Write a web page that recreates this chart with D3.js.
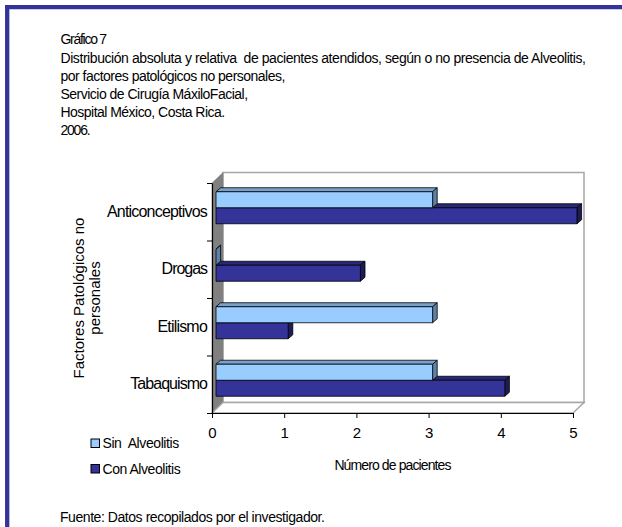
<!DOCTYPE html>
<html><head><meta charset="utf-8">
<script src="https://cdn.jsdelivr.net/npm/d3@7"></script>
<style>
html,body{margin:0;padding:0;background:#fff;overflow:hidden;}
svg{display:block;font-family:"Liberation Sans",Arial,sans-serif;}
text{white-space:pre;}
</style></head><body>
<svg id="chart" width="622" height="527"></svg>
<script>
// ---- data ----
const titleLines = ["Gráfico 7",
  "Distribución absoluta y relativa  de pacientes atendidos, según o no presencia de Alveolitis,",
  "por factores patológicos no personales,",
  "Servicio de Cirugía MáxiloFacial,",
  "Hospital México, Costa Rica.",
  "2006."];
const categories = ["Anticonceptivos", "Drogas", "Etilismo", "Tabaquismo"];
const seriesKeys = ["sin", "con"];
const seriesNames = ["Sin  Alveolitis", "Con Alveolitis"];
const sinAlveolitis = [3, 0, 3, 3];
const conAlveolitis = [5, 2, 1, 4];
const xTicks = [0, 1, 2, 3, 4, 5];
const yAxisTitle = ["Factores Patológicos no", "personales"];
const xAxisTitle = "Número de pacientes";
const sourceNote = "Fuente: Datos recopilados por el investigador.";

// ---- layout ----
const svg = d3.select("#chart");
const W = 622, H = 527;
svg.append("rect").attr("width", W).attr("height", H).attr("fill", "#fff");
// frame (only top & left edges visible)
svg.append("line").attr("x1", 5).attr("x2", W).attr("y1", 7.2).attr("y2", 7.2)
  .attr("stroke", "#333399").attr("stroke-width", 4.3);
svg.append("line").attr("x1", 7.2).attr("x2", 7.2).attr("y1", 5).attr("y2", H)
  .attr("stroke", "#333399").attr("stroke-width", 4.3);

// tighten text (the reference font is rendered condensed)
function condense(sel, f) {
  sel.each(function () {
    const el = d3.select(this);
    const w = this.getComputedTextLength();
    const n = Math.max(1, el.text().length - 1);
    el.attr("letter-spacing", ((w * f - w) / n).toFixed(3));
  });
}

// title
const tBase = [44, 62.5, 80.5, 99, 117, 135];
const tFactor = [0.82, 0.93, 0.92, 0.92, 0.92, 0.86];
const tt = svg.append("g").selectAll("text").data(titleLines).join("text")
  .attr("x", 60.5).attr("y", (d, i) => tBase[i])
  .attr("font-size", 14).attr("fill", "#000").text(d => d);
tt.each(function (d, i) { condense(d3.select(this), tFactor[i]); });

// scales
const x = d3.scaleLinear().domain([0, 5]).range([212, 573]);
const yTop = 183, yBot = 413;
const yBand = d3.scaleBand().domain(categories).range([yTop, yBot])
  .paddingInner(0.443).paddingOuter(0.2215);
const ySeries = d3.scaleBand().domain(seriesKeys).range([0, yBand.bandwidth()]);
const yIdx = d3.scaleLinear().domain([0, categories.length]).range([yTop, yBot]);

const D = { dx: 11, dy: -10.5 };       // wall depth
const B = { ox: 4, oy: -4, dx: 4.6, dy: -4 }; // bar placement & depth

// walls
const g = svg.append("g");
const x0 = x(0), x1 = x(5);
g.append("rect").attr("x", x0 + D.dx).attr("y", yTop + D.dy)
  .attr("width", x1 - x0).attr("height", yBot - yTop)
  .attr("fill", "#fff").attr("stroke", "#a6a6a6").attr("stroke-width", 1.5);
g.append("polygon")
  .attr("points", [[x0, yTop], [x0 + D.dx, yTop + D.dy], [x0 + D.dx, yBot + D.dy], [x0, yBot]].join(" "))
  .attr("fill", "#808080").attr("stroke", "#808080").attr("stroke-width", 0.5);
g.append("polygon")
  .attr("points", [[x0, yBot], [x0 + D.dx, yBot + D.dy], [x1 + D.dx, yBot + D.dy], [x1, yBot]].join(" "))
  .attr("fill", "#fff").attr("stroke", "#a6a6a6").attr("stroke-width", 1.5);

// bars
const series = [
  { key: "con", values: conAlveolitis, front: "#333399", top: "#28287a", side: "#1c1c58" },
  { key: "sin", values: sinAlveolitis, front: "#99ccff", top: "#78a2cc", side: "#5a82aa" }
];
const bars = svg.append("g").attr("stroke", "#000").attr("stroke-width", 0.8).attr("stroke-linejoin", "round");
series.forEach(s => {
  categories.forEach((c, i) => {
    const v = s.values[i];
    const bx0 = x(0) + B.ox, bx1 = x(v) + B.ox;
    const by0 = yBand(c) + ySeries(s.key) + B.oy, h = ySeries.bandwidth();
    const gb = bars.append("g");
    gb.append("polygon")
      .attr("points", [[bx0, by0], [bx0 + B.dx, by0 + B.dy], [bx1 + B.dx, by0 + B.dy], [bx1, by0]].join(" "))
      .attr("fill", s.top);
    gb.append("polygon")
      .attr("points", [[bx1, by0], [bx1 + B.dx, by0 + B.dy], [bx1 + B.dx, by0 + h + B.dy], [bx1, by0 + h]].join(" "))
      .attr("fill", s.side);
    if (v > 0) gb.append("rect").attr("x", bx0).attr("y", by0)
      .attr("width", bx1 - bx0).attr("height", h).attr("fill", s.front);
  });
});

// axes
const xAxis = svg.append("g").attr("transform", `translate(0,${yBot})`)
  .call(d3.axisBottom(x).tickValues(xTicks).tickSize(5).tickPadding(9).tickSizeOuter(0).tickFormat(d3.format("d")));
xAxis.select(".domain").attr("stroke", "#000").attr("stroke-width", 1.2);
xAxis.selectAll(".tick line").attr("stroke", "#000");
xAxis.selectAll("text").attr("font-size", 15).attr("font-family", "Liberation Sans, Arial, sans-serif").attr("fill", "#000");

const yTicks = svg.append("g").attr("transform", `translate(${x0},0)`)
  .call(d3.axisLeft(yIdx).tickValues(d3.range(categories.length + 1)).tickSize(5).tickSizeOuter(0).tickFormat(""));
yTicks.select(".domain").attr("stroke", "#000").attr("stroke-width", 1.2);
yTicks.selectAll(".tick line").attr("stroke", "#000");

const yLab = svg.append("g").attr("transform", `translate(${x0},0)`)
  .call(d3.axisLeft(yBand).tickSize(0).tickPadding(5));
yLab.select(".domain").remove();
const yl = yLab.selectAll("text").attr("font-size", 16).attr("font-family", "Liberation Sans, Arial, sans-serif")
  .attr("fill", "#000").attr("dy", "0.32em");
condense(yl, 0.9);

// y axis title
svg.append("g").selectAll("text").data(yAxisTitle).join("text")
  .attr("transform", (d, i) => `translate(${83.5 + i * 16.5},298) rotate(-90)`)
  .attr("text-anchor", "middle").attr("font-size", 15).attr("fill", "#000").text(d => d);

// x axis title
const xt = svg.append("text").attr("x", (x0 + x1) / 2).attr("y", 470)
  .attr("text-anchor", "middle").attr("font-size", 14).attr("fill", "#000").text(xAxisTitle);
condense(xt, 0.88);

// legend
const leg = svg.append("g");
const legColors = ["#99ccff", "#333399"];
seriesNames.forEach((n, i) => {
  leg.append("rect").attr("x", 91).attr("y", 439 + i * 25.5).attr("width", 8.5).attr("height", 8.5)
    .attr("fill", legColors[i]).attr("stroke", "#000").attr("stroke-width", 1);
  const t = leg.append("text").attr("x", 102.5).attr("y", 448 + i * 25.5)
    .attr("font-size", 14).attr("fill", "#000").text(n);
  condense(t, 0.93);
});

// source
const st = svg.append("text").attr("x", 60).attr("y", 522).attr("font-size", 14).attr("fill", "#000").text(sourceNote);
condense(st, 0.93);
</script>
</body></html>
